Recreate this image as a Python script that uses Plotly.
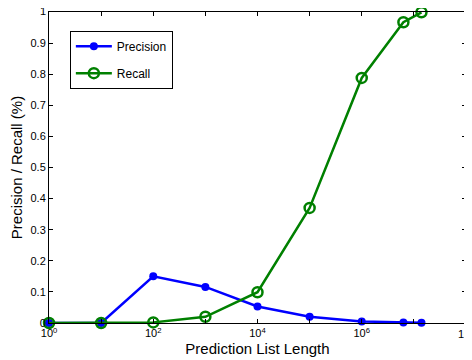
import plotly.graph_objects as go

list_length = [1, 10, 100, 1000, 1e4, 1e5, 1e6, 6.3e6, 1.4e7]
precision = [0.0, 0.0, 0.15, 0.116, 0.053, 0.02, 0.005, 0.002, 0.001]
recall = [0.0, 0.0, 0.002, 0.02, 0.099, 0.37, 0.788, 0.967, 0.999]

x_tickvals = [10**i for i in range(9)]
x_ticktext = ["10<sup>%d</sup>" % i if i % 2 == 0 else "" for i in range(9)]
y_tickvals = [i / 10 for i in range(11)]
y_ticktext = ["0", "0.1", "0.2", "0.3", "0.4", "0.5", "0.6", "0.7", "0.8", "0.9", "1"]

fig = go.Figure()
fig.add_trace(go.Scatter(
    x=list_length, y=precision, name="Precision", mode="lines+markers",
    line=dict(color="#0000FF", width=2.5),
    marker=dict(symbol="circle", size=8, color="#0000FF"),
    legendgroup="p", cliponaxis=False,
))
fig.add_trace(go.Scatter(
    x=list_length, y=recall, name="Recall", mode="lines+markers",
    line=dict(color="#008000", width=2.5),
    marker=dict(symbol="circle-open", size=10, color="#008000", line=dict(width=2.5)),
    legendgroup="r", cliponaxis=False,
))

font = "Liberation Sans, Arial, Helvetica, sans-serif"

# edge tick labels that plotly would hide because they touch the page edge
fig.add_annotation(
    x=0, y=y_tickvals[-1], xref="paper", yref="y", text=y_ticktext[-1],
    showarrow=False, xanchor="right", yanchor="middle", xshift=-1, yshift=1,
    font=dict(size=11),
)
fig.add_annotation(
    x=1, y=0, xref="paper", yref="paper", text=x_ticktext[-1],
    showarrow=False, xanchor="left", yanchor="top", xshift=-10, yshift=-1,
    font=dict(size=11),
)

fig.update_layout(
    width=464, height=352,
    margin=dict(l=41, r=6, t=4, b=37),
    paper_bgcolor="white", plot_bgcolor="white",
    font=dict(family=font, size=11, color="black"),
    showlegend=True,
    legend=dict(
        x=0.05, y=0.94, xanchor="left", yanchor="top",
        bordercolor="black", borderwidth=1, bgcolor="white",
        font=dict(size=12), tracegroupgap=8, itemwidth=36,
    ),
    xaxis=dict(
        type="log", range=[-0.0005, 8.0005],
        tickvals=x_tickvals, ticktext=x_ticktext,
        ticks="inside", ticklen=4, tickcolor="black",
        showline=True, linecolor="black", linewidth=1, mirror="ticks",
        showgrid=False, zeroline=False,
        title=dict(text="Prediction List Length", font=dict(size=15), standoff=5),
        tickfont=dict(size=11),
    ),
    yaxis=dict(
        range=[0, 1],
        tickvals=y_tickvals, ticktext=y_ticktext,
        ticks="inside", ticklen=4, tickcolor="black",
        showline=True, linecolor="black", linewidth=1, mirror="ticks",
        showgrid=False, zeroline=False,
        title=dict(text="Precision / Recall (%)", font=dict(size=15), standoff=6),
        tickfont=dict(size=11),
    ),
)

fig.write_html("out.html")
